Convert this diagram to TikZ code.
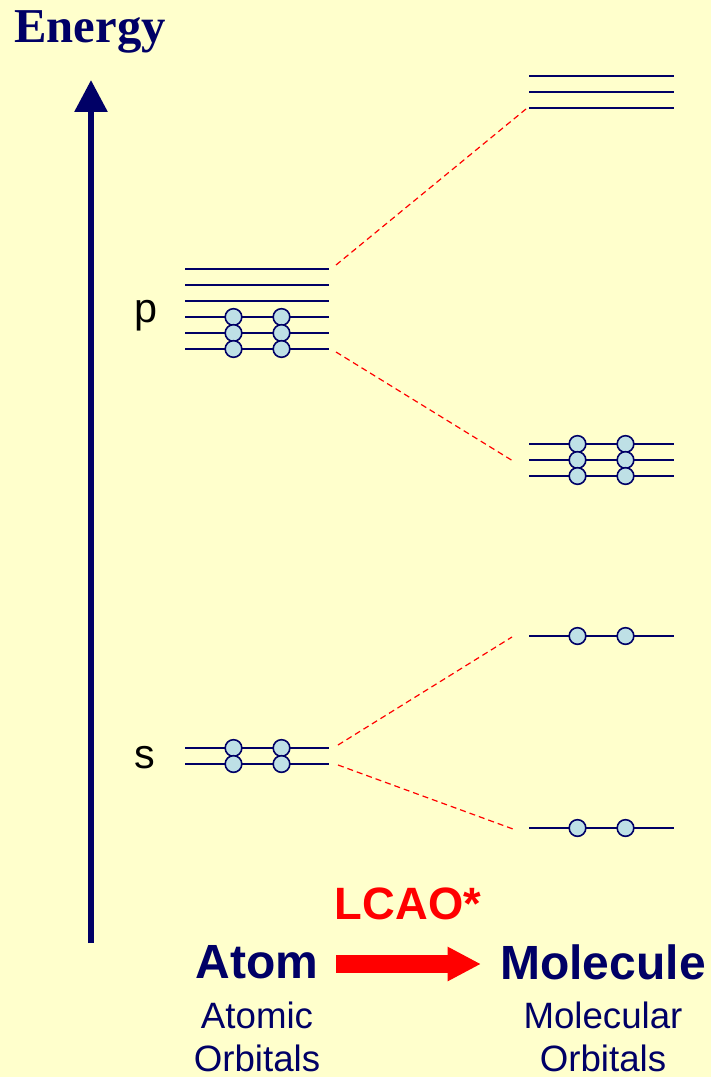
\documentclass[tikz,border=0pt]{standalone}
\usepackage{fontspec}
\setmainfont{Liberation Sans}
\newfontfamily\serifbold{Liberation Serif}
\usetikzlibrary{arrows.meta}
\definecolor{navy}{RGB}{0,0,102}
\definecolor{bgyel}{RGB}{255,255,204}
\definecolor{eblue}{RGB}{190,224,230}
\definecolor{lred}{RGB}{255,0,0}
\begin{document}
\begin{tikzpicture}[x=0.75pt,y=-0.75pt,
  level/.style={draw=navy,line width=1.6pt},
  elec/.style={circle,draw=navy,fill=eblue,line width=1.2pt,minimum size=12.5pt,inner sep=0pt},
  mix/.style={draw=lred,dashed,line width=0.9pt,dash pattern=on 4.5pt off 3pt},
  lbl/.style={inner sep=0pt,text=navy,font=\fontsize{36}{42}\selectfont\bfseries},
  sub/.style={inner sep=0pt,text=navy,font=\fontsize{27.5}{32}\selectfont,align=center}]
\fill[bgyel] (0,0) rectangle (711,1077);
\useasboundingbox (0,0) rectangle (711,1077);
% Energy axis
\node[inner sep=0pt,anchor=west,text=navy,font=\fontsize{36.5}{40}\serifbold\bfseries] (energy) at (14,32) {Energy};
\coordinate (axbot) at (91,943);
\coordinate (axtop) at (91,80);
\draw[navy,line width=4.5pt,-{Triangle[width=24pt,length=24pt]}] (axbot) -- (axtop);
% labels
\node[inner sep=0pt,font=\fontsize{31}{36}\selectfont] (plab) at (146,316) {p};
\node[inner sep=0pt,font=\fontsize{31}{36}\selectfont] (slab) at (145,758) {s};
% atomic p levels
\foreach \y [count=\i] in {269,285,301,317,333,349} {
  \coordinate (pL\i) at (185,\y); \coordinate (pR\i) at (329,\y);
  \draw[level] (pL\i) -- (pR\i);
}
\foreach \y [count=\i] in {317,333,349} {
  \node[elec] (pa\i) at (233.5,\y) {}; \node[elec] (pb\i) at (281.5,\y) {};
}
% atomic s levels
\foreach \y [count=\i] in {748,764} {
  \coordinate (sL\i) at (185,\y); \coordinate (sR\i) at (329,\y);
  \draw[level] (sL\i) -- (sR\i);
  \node[elec] (sa\i) at (233.5,\y) {}; \node[elec] (sb\i) at (281.5,\y) {};
}
% molecular levels: antibonding p
\foreach \y [count=\i] in {76,92,108} {
  \coordinate (aL\i) at (529,\y); \coordinate (aR\i) at (674,\y);
  \draw[level] (aL\i) -- (aR\i);
}
% bonding p
\foreach \y [count=\i] in {444,460,476} {
  \coordinate (bL\i) at (529,\y); \coordinate (bR\i) at (674,\y);
  \draw[level] (bL\i) -- (bR\i);
  \node[elec] (ba\i) at (577.5,\y) {}; \node[elec] (bb\i) at (625.5,\y) {};
}
% s antibonding / bonding
\coordinate (cL) at (529,636); \coordinate (cR) at (674,636);
\draw[level] (cL) -- (cR);
\node[elec] (ca) at (577.5,636) {}; \node[elec] (cb) at (625.5,636) {};
\coordinate (dL) at (529,828); \coordinate (dR) at (674,828);
\draw[level] (dL) -- (dR);
\node[elec] (da) at (577.5,828) {}; \node[elec] (db) at (625.5,828) {};
% correlation lines
\coordinate (m1s) at (336,265); \coordinate (m1e) at (526,109);
\coordinate (m2s) at (336,352); \coordinate (m2e) at (513,461);
\coordinate (m3s) at (338,745); \coordinate (m3e) at (512,637);
\coordinate (m4s) at (338,765); \coordinate (m4e) at (513,829);
\draw[mix] (m1s) -- (m1e);
\draw[mix] (m2s) -- (m2e);
\draw[mix] (m3s) -- (m3e);
\draw[mix] (m4s) -- (m4e);
% bottom
\node[inner sep=0pt,text=lred,font=\fontsize{34}{40}\selectfont\bfseries] (lcao) at (408,904) {LCAO*};
\node[lbl] (atom) at (257,962) {Atom};
\node[lbl] (mol) at (603,962) {Molecule};
\node[sub] (ao) at (257,1037) {Atomic\\Orbitals};
\node[sub] (mo) at (603,1037) {Molecular\\Orbitals};
\coordinate (ra) at (336,964); \coordinate (rb) at (481,964);
\draw[lred,line width=13.5pt,-{Triangle[width=24pt,length=25pt]}] (ra) -- (rb);
\end{tikzpicture}
\end{document}
